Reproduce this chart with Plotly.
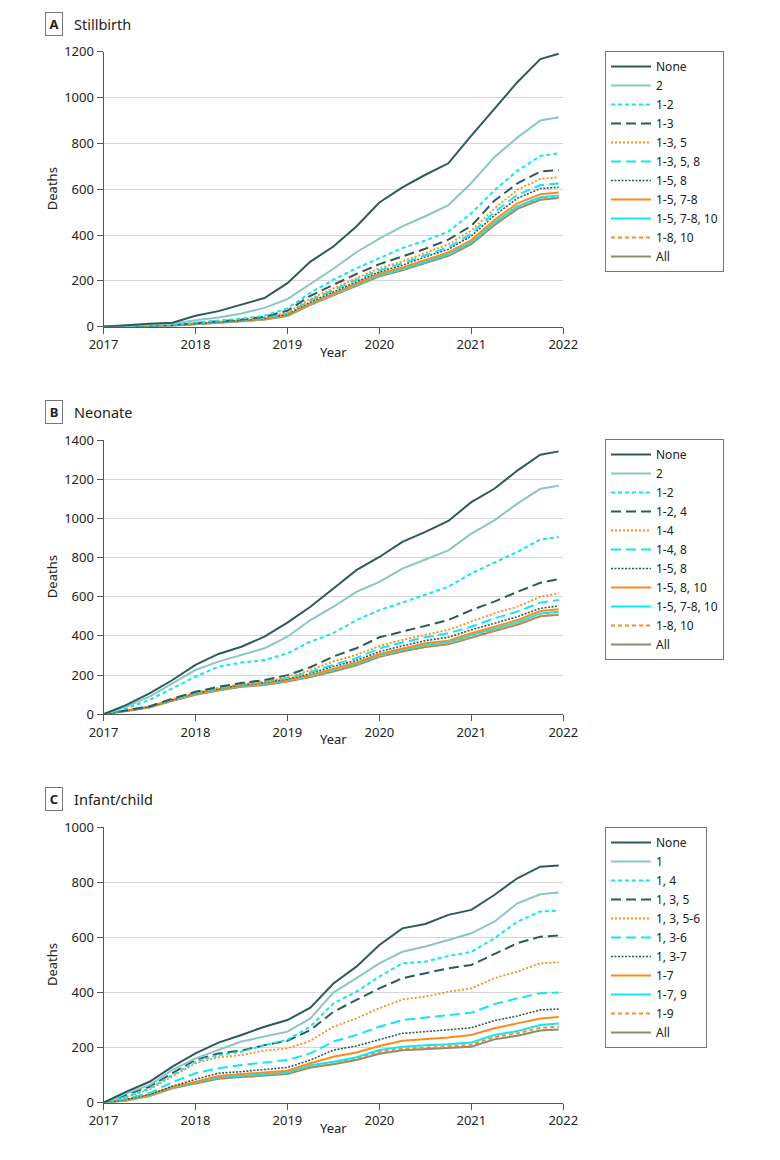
import plotly.graph_objects as go

# ---------------- data ----------------
quarters = [2017.0, 2017.25, 2017.5, 2017.75, 2018.0, 2018.25, 2018.5, 2018.75,
            2019.0, 2019.25, 2019.5, 2019.75, 2020.0, 2020.25, 2020.5, 2020.75,
            2021.0, 2021.25, 2021.5, 2021.75, 2021.95]

stillbirth_labels = ["None", "2", "1-2", "1-3", "1-3, 5", "1-3, 5, 8", "1-5, 8",
                     "1-5, 7-8", "1-5, 7-8, 10", "1-8, 10", "All"]
stillbirth_values = [
    [0, 8, 13, 17, 48, 68, 95, 125, 190, 284, 350, 437, 542, 608, 663, 713, 834, 950, 1067, 1168, 1191],
    [0, 5, 10, 13, 28, 40, 58, 82, 120, 187, 253, 325, 384, 438, 482, 530, 627, 740, 825, 900, 914],
    [0, 3, 5, 8, 18, 25, 35, 48, 80, 148, 205, 255, 300, 343, 376, 415, 495, 595, 680, 745, 757],
    [0, 3, 5, 7, 16, 22, 31, 43, 70, 135, 183, 230, 273, 308, 340, 380, 440, 550, 625, 677, 684],
    [0, 3, 5, 7, 15, 21, 29, 40, 62, 122, 168, 212, 255, 285, 322, 360, 420, 515, 597, 645, 652],
    [0, 2, 4, 6, 14, 20, 28, 38, 58, 115, 160, 204, 246, 276, 312, 346, 406, 500, 575, 618, 625],
    [0, 2, 4, 6, 13, 19, 27, 36, 54, 108, 152, 196, 240, 268, 305, 338, 396, 485, 560, 603, 608],
    [0, 2, 4, 6, 12, 18, 26, 34, 50, 100, 145, 188, 232, 258, 292, 324, 378, 465, 538, 578, 586],
    [0, 2, 4, 6, 12, 17, 25, 33, 49, 98, 141, 183, 226, 252, 285, 316, 369, 453, 525, 565, 573],
    [0, 2, 4, 5, 12, 17, 24, 32, 48, 97, 139, 181, 223, 249, 282, 313, 365, 448, 520, 560, 568],
    [0, 2, 4, 5, 11, 16, 24, 31, 47, 95, 137, 178, 220, 246, 278, 309, 360, 443, 514, 554, 562],
]

neonate_labels = ["None", "2", "1-2", "1-2, 4", "1-4", "1-4, 8", "1-5, 8",
                  "1-5, 8, 10", "1-5, 7-8, 10", "1-8, 10", "All"]
neonate_values = [
    [0, 48, 107, 175, 252, 308, 345, 396, 468, 549, 642, 736, 803, 880, 931, 987, 1083, 1151, 1244, 1325, 1342],
    [0, 39, 90, 158, 226, 269, 303, 337, 396, 481, 549, 625, 676, 744, 790, 837, 922, 990, 1075, 1151, 1166],
    [0, 31, 73, 133, 192, 243, 264, 277, 311, 371, 414, 481, 532, 570, 609, 651, 719, 773, 829, 892, 905],
    [0, 20, 40, 80, 115, 140, 160, 175, 200, 240, 295, 337, 393, 422, 451, 481, 532, 575, 625, 671, 690],
    [0, 20, 40, 78, 112, 135, 155, 168, 190, 225, 270, 303, 349, 380, 405, 431, 473, 515, 549, 600, 617],
    [0, 20, 40, 76, 110, 132, 152, 165, 185, 215, 253, 286, 337, 366, 393, 414, 447, 490, 524, 570, 583],
    [0, 19, 38, 74, 108, 130, 150, 162, 180, 208, 244, 275, 320, 349, 376, 393, 431, 464, 498, 541, 553],
    [0, 18, 37, 72, 105, 127, 147, 158, 175, 200, 231, 264, 308, 337, 363, 376, 414, 447, 481, 527, 536],
    [0, 18, 36, 71, 104, 125, 145, 155, 172, 196, 226, 259, 302, 330, 355, 368, 405, 437, 470, 515, 524],
    [0, 17, 35, 70, 102, 123, 142, 152, 169, 192, 221, 253, 296, 323, 347, 360, 396, 428, 460, 503, 510],
    [0, 17, 34, 69, 100, 121, 140, 150, 167, 190, 218, 250, 293, 320, 344, 357, 393, 425, 457, 500, 508],
]

infant_labels = ["None", "1", "1, 4", "1, 3, 5", "1, 3, 5-6", "1, 3-6", "1, 3-7",
                 "1-7", "1-7, 9", "1-9", "All"]
infant_values = [
    [0, 40, 76, 131, 179, 218, 246, 276, 300, 345, 433, 494, 573, 633, 649, 682, 700, 754, 815, 857, 861],
    [0, 34, 64, 119, 161, 191, 222, 240, 258, 306, 400, 452, 506, 548, 567, 591, 615, 657, 724, 757, 763],
    [0, 22, 52, 100, 149, 173, 185, 209, 228, 276, 361, 403, 458, 506, 512, 533, 548, 597, 657, 694, 697],
    [0, 28, 58, 107, 155, 179, 189, 209, 225, 264, 330, 373, 415, 452, 470, 488, 500, 540, 579, 603, 607],
    [0, 20, 48, 95, 143, 165, 173, 189, 197, 225, 276, 306, 343, 375, 385, 403, 415, 452, 476, 506, 510],
    [0, 15, 35, 75, 107, 125, 137, 145, 155, 179, 222, 246, 276, 300, 310, 318, 327, 358, 379, 397, 400],
    [0, 12, 30, 60, 85, 107, 113, 121, 128, 155, 191, 206, 230, 252, 258, 264, 272, 298, 315, 337, 340],
    [0, 10, 28, 57, 76, 97, 104, 109, 116, 143, 167, 182, 206, 225, 230, 237, 246, 270, 288, 306, 311],
    [0, 9, 26, 55, 73, 92, 98, 104, 110, 136, 149, 165, 191, 203, 209, 212, 219, 246, 260, 282, 288],
    [0, 9, 25, 54, 72, 90, 96, 101, 107, 132, 145, 160, 185, 196, 200, 205, 210, 238, 252, 272, 276],
    [0, 8, 24, 52, 70, 87, 93, 98, 104, 128, 140, 155, 178, 190, 194, 198, 203, 230, 243, 262, 266],
]

panel_letters = ["A", "B", "C"]
panel_titles = ["Stillbirth", "Neonate", "Infant/child"]
y_max = [1200, 1400, 1000]
x_ticks = [2017, 2018, 2019, 2020, 2021, 2022]

# ---------------- styles ----------------
DARK = "#2e5a5a"
TEAL = "#8cc6c2"
CYAN = "#12e6f2"
ORANGE = "#ff8a1a"
GRAY = "#8d8b76"
styles = [
    dict(color=DARK, dash="solid", width=2),
    dict(color=TEAL, dash="solid", width=2),
    dict(color=CYAN, dash="4px,3px", width=2),
    dict(color=DARK, dash="10px,5px", width=2),
    dict(color=ORANGE, dash="2px,2px", width=1.8),
    dict(color=CYAN, dash="10px,5px", width=2),
    dict(color=DARK, dash="2px,1.5px", width=1.6),
    dict(color=ORANGE, dash="solid", width=2),
    dict(color=CYAN, dash="solid", width=2),
    dict(color=ORANGE, dash="4px,3px", width=2),
    dict(color=GRAY, dash="solid", width=2),
]

W, H = 780, 1160
OFF = 8  # page body margin of the browser
FONT = "Noto Sans"


def px_x(v):
    return (v - OFF) / W


def px_y(v):
    return 1 - (v - OFF) / H


plot_x0, plot_x1 = 103.5, 563.3
panel_px = [(51.7, 326.7), (440.0, 714.3), (827.3, 1102.7)]  # top, bottom in px
legend_tops = [51, 439, 827]

fig = go.Figure()
panels = [(stillbirth_labels, stillbirth_values),
          (neonate_labels, neonate_values),
          (infant_labels, infant_values)]

for p, (labels, values) in enumerate(panels):
    ax = "" if p == 0 else str(p + 1)
    leg = "legend" if p == 0 else f"legend{p + 1}"
    for i in reversed(range(len(labels))):
        fig.add_trace(go.Scatter(
            x=quarters, y=values[i], mode="lines", name=labels[i],
            line=styles[i], xaxis="x" + ax, yaxis="y" + ax,
            legend=leg, legendrank=i + 1, hoverinfo="skip"))

layout = dict(width=W, height=H,
              margin=dict(l=0, r=0, t=0, b=0, pad=0, autoexpand=False),
              paper_bgcolor="white", plot_bgcolor="white",
              font=dict(family=FONT, size=13, color="#222"),
              annotations=[])

for p in range(3):
    ax = "" if p == 0 else str(p + 1)
    top, bot = panel_px[p]
    layout["xaxis" + ax] = dict(
        domain=[px_x(plot_x0), px_x(plot_x1)], range=[2017, 2022],
        tickvals=x_ticks, ticktext=[str(t) for t in x_ticks],
        showgrid=False, zeroline=False, showline=True, linecolor="#555",
        linewidth=1, ticks="outside", ticklen=6, tickcolor="#555", automargin=False,
        anchor="y" + ax, tickfont=dict(size=13, color="#222"))
    layout["yaxis" + ax] = dict(
        domain=[px_y(bot), px_y(top)], range=[0, y_max[p]],
        tick0=0, dtick=200, showgrid=True, gridcolor="#d6d6d6", gridwidth=1,
        zeroline=False, showline=True, linecolor="#555", linewidth=1,
        ticks="outside", ticklen=6, tickcolor="#555", automargin=False,
        anchor="x" + ax, tickfont=dict(size=13, color="#222"))
    lkey = "legend" if p == 0 else f"legend{p + 1}"
    layout[lkey] = dict(
        x=px_x(605), y=px_y(legend_tops[p]), xanchor="left", yanchor="top",
        bordercolor="#777", borderwidth=1, bgcolor="white",
        font=dict(family=FONT, size=12, color="#222"),
        traceorder="normal", tracegroupgap=0, itemwidth=40)
    # panel letter and title
    cy = top - 28
    layout["annotations"].append(dict(
        text="<b>%s</b>" % panel_letters[p], x=px_x(54), y=px_y(cy),
        xref="paper", yref="paper", showarrow=False, xanchor="center", yanchor="middle",
        bordercolor="#777", borderwidth=1, borderpad=2, width=12,
        font=dict(family=FONT, size=13, color="#222")))
    layout["annotations"].append(dict(
        text=panel_titles[p], x=px_x(72), y=px_y(cy), xref="paper", yref="paper",
        showarrow=False, xanchor="left", yanchor="middle",
        font=dict(family=FONT, size=14.5, color="#222")))
    # axis titles
    layout["annotations"].append(dict(
        text="Year", x=px_x((plot_x0 + plot_x1) / 2), y=px_y(bot + 25),
        xref="paper", yref="paper", showarrow=False, xanchor="center", yanchor="middle",
        font=dict(family=FONT, size=13, color="#222")))
    layout["annotations"].append(dict(
        text="Deaths", x=px_x(52), y=px_y((top + bot) / 2), textangle=-90,
        xref="paper", yref="paper", showarrow=False, xanchor="center", yanchor="middle",
        font=dict(family=FONT, size=13, color="#222")))

fig.update_layout(**layout)
fig.write_html("out.html")
